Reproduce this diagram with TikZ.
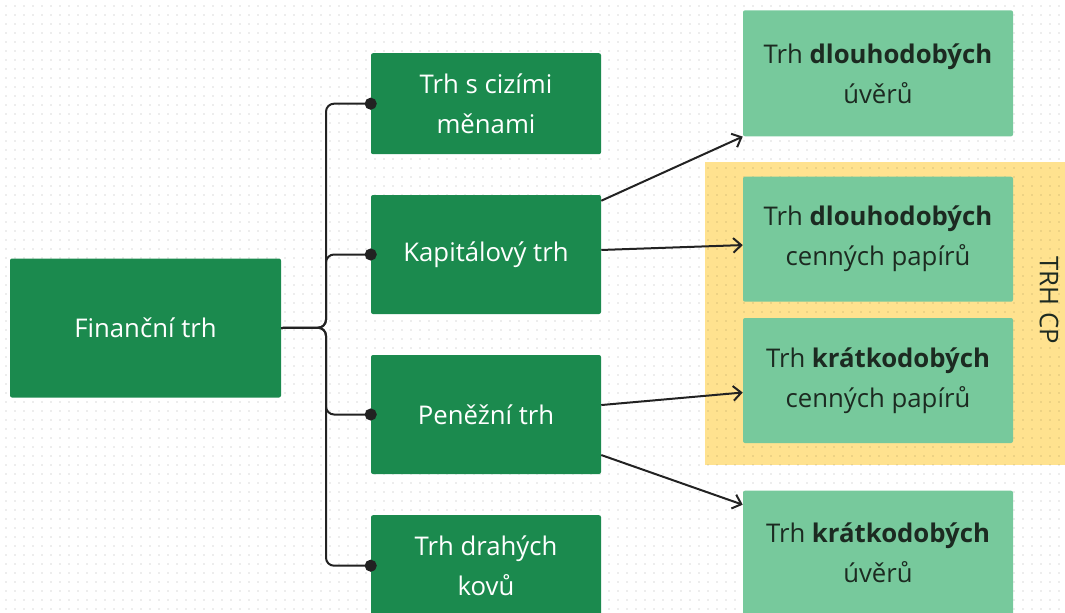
\documentclass[tikz,border=0pt]{standalone}
\usepackage{fontspec}
\setmainfont{Open Sans}
\usepackage{tikz}
\usetikzlibrary{arrows.meta}
\definecolor{tmava}{HTML}{1B8A4E}
\definecolor{svetla}{HTML}{77C99C}
\definecolor{zluta}{HTML}{FFE28F}
\definecolor{cara}{HTML}{222222}
\definecolor{pismo}{HTML}{1C2A21}

\begin{document}
\begin{tikzpicture}[x=0.75pt,y=-0.75pt,
	pismo/.style={font=\fontsize{19.3}{30}\selectfont},
	tmavy/.style={shape=rectangle,fill=tmava,text=white,rounded corners=1.5pt,align=center,inner sep=0pt,pismo},
	svetly/.style={shape=rectangle,fill=svetla,text=pismo,rounded corners=1.5pt,align=center,inner sep=0pt,pismo,minimum width=202.5pt,minimum height=93.75pt},
	spoj/.style={draw=cara,line width=1.5pt,rounded corners=6pt,-{Circle[length=9pt]},shorten >=-4.5pt},
	sipka/.style={draw=cara,line width=1.5pt,-{Straight Barb[length=6pt,width=11pt]}},
	mrizka/.style={draw=black,draw opacity=0.07,line width=1.5pt,dash pattern=on 1.5pt off 5.25pt}]
	\useasboundingbox (0,0) rectangle (1065,612);
	\clip (0,0) rectangle (1065,612);
	% skupina TRH CP
	\node[shape=rectangle,fill=zluta,minimum width=273.75pt,minimum height=227.5pt] (cp) at (887.5,313.3) {};
	% mrizka z tecek
	\foreach \r in {0,...,67}
		\draw[mrizka] (5,{5.7+9*\r}) -- (1065,{5.7+9*\r});
	% uzly
	\node[tmavy,minimum width=203.25pt,minimum height=104.25pt] (fin) at (145.5,328) {Finanční trh};
	\node[tmavy,minimum width=172.5pt,minimum height=75.75pt] (cizi) at (486,103.7) {Trh s cizími\\měnami};
	\node[tmavy,minimum width=172.5pt,minimum height=89.25pt] (kap) at (486,254.5) {Kapitálový trh};
	\node[tmavy,minimum width=172.5pt,minimum height=89.25pt] (pen) at (486,414.5) {Peněžní trh};
	\node[tmavy,minimum width=172.5pt,minimum height=75.75pt] (kovy) at (486,565.7) {Trh drahých\\kovů};
	\node[svetly,minimum height=94.5pt] (duv) at (878,73.3) {Trh \textbf{dlouhodobých}\\úvěrů};
	\node[svetly] (dcp) at (878,239.2) {Trh \textbf{dlouhodobých}\\cenných papírů};
	\node[svetly] (kcp) at (878,380.5) {Trh \textbf{krátkodobých}\\cenných papírů};
	\node[svetly] (kuv) at (878,553.2) {Trh \textbf{krátkodobých}\\úvěrů};
	\node[pismo,text=pismo,rotate=-90] (cplab) at (1049,300) {TRH CP};
	% rozvetveni
	\coordinate (rozc) at (326,327.7);
	\path [spoj] (fin.east) -- (rozc) |- (cizi.west);
	\path [spoj] (fin.east) -- (rozc) |- (kap.west);
	\path [spoj] (fin.east) -- (rozc) |- (pen.west);
	\path [spoj] (fin.east) -- (rozc) |- (kovy.west);
	% sipky
	\path [sipka] ([yshift=-4.5pt]kap.north east) -- (duv.south west);
	\path [sipka] ([yshift=3.4pt]kap.east) -- ([yshift=-4.4pt]dcp.west);
	\path [sipka] ([yshift=7.1pt]pen.east) -- ([yshift=-9pt]kcp.west);
	\path [sipka] ([yshift=-30.4pt]pen.east) -- ([yshift=-10.7pt]kuv.north west);
\end{tikzpicture}
\end{document}
